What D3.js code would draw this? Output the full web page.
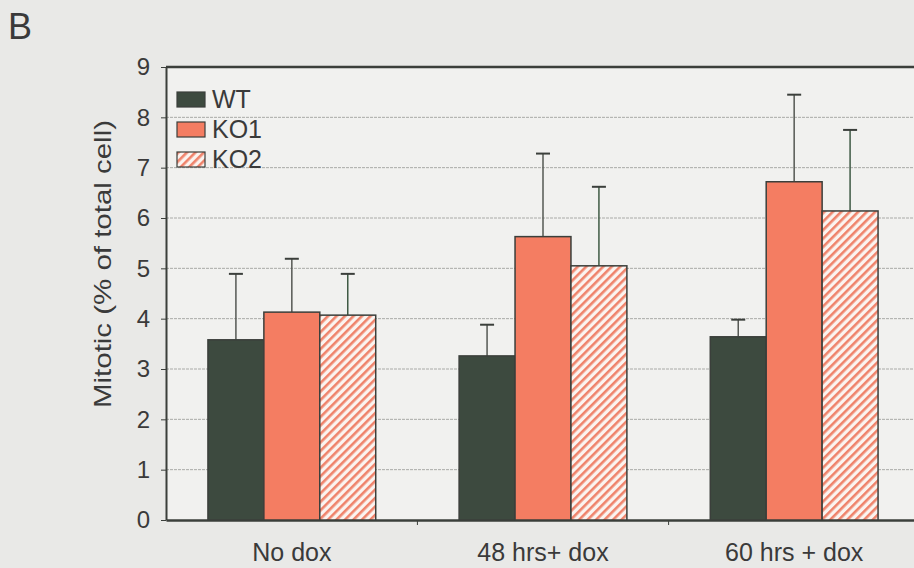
<!DOCTYPE html>
<html>
<head>
<meta charset="utf-8">
<script src="https://cdn.jsdelivr.net/npm/d3@7"></script>
<style>
  body { margin: 0; background: #e9e9e7; }
  text { font-family: "Liberation Sans", Arial, sans-serif; fill: #3a3a3a; }
</style>
</head>
<body>
<div id="chart"></div>
<script>
// data
const categories = ["No dox", "48 hrs+ dox", "60 hrs + dox"];
const series = ["WT", "KO1", "KO2"];
const means = {
    WT:  [3.58, 3.26, 3.64],
    KO1: [4.13, 5.63, 6.72],
    KO2: [4.07, 5.05, 6.14]
};
const errTops = {
    WT:  [4.89, 3.88, 3.98],
    KO1: [5.19, 7.28, 8.45],
    KO2: [4.89, 6.62, 7.75]
};
const yTicks = [0, 1, 2, 3, 4, 5, 6, 7, 8, 9];

const W = 914, H = 568;
const margin = {top: 67, right: -6, bottom: 48, left: 166};

const svg = d3.select("#chart").append("svg")
    .attr("width", W)
    .attr("height", H);

// diagonal hatch for KO2
const defs = svg.append("defs");
let pat = defs.append("pattern")
    .attr("id", "hatch")
    .attr("patternUnits", "userSpaceOnUse")
    .attr("width", 6)
    .attr("height", 6)
    .attr("patternTransform", "rotate(45)");
pat.append("rect").attr("width", 6).attr("height", 6).attr("fill", "#fbf4f0");
pat.append("rect").attr("width", 2.6).attr("height", 6).attr("fill", "#ef836b");

const color = {WT: "#3d4a3f", KO1: "#f47d62", KO2: "url(#hatch)"};

// panel letter
svg.append("text")
    .attr("x", 8).attr("y", 39)
    .style("font-size", "36px")
    .text("B");

const x0 = d3.scaleBand()
    .domain(categories)
    .range([margin.left, W - margin.right])
    .paddingInner(0.332)
    .paddingOuter(0.167);

const x1 = d3.scaleBand()
    .domain(series)
    .range([0, x0.bandwidth()]);

const y = d3.scaleLinear()
    .domain([0, 9])
    .range([H - margin.bottom, margin.top]);

// plot background
svg.append("rect")
    .attr("x", margin.left).attr("y", y(9))
    .attr("width", W - margin.left + 10).attr("height", y(0) - y(9))
    .attr("fill", "#f1f1ef");

// gridlines
svg.append("g")
    .selectAll("line")
    .data(yTicks.filter(t => t > 0 && t < 9))
    .join("line")
    .attr("x1", margin.left).attr("x2", W)
    .attr("y1", d => y(d)).attr("y2", d => y(d))
    .attr("stroke", "#a9aaa7")
    .attr("stroke-width", 1)
    .attr("stroke-dasharray", "3,1");

// top border
svg.append("line")
    .attr("x1", margin.left).attr("x2", W)
    .attr("y1", y(9)).attr("y2", y(9))
    .attr("stroke", "#3b3f3b").attr("stroke-width", 2.5);

// y axis
const yAxis = svg.append("g")
    .attr("transform", `translate(${margin.left},0)`)
    .call(d3.axisLeft(y).tickValues(yTicks).tickSize(5).tickSizeOuter(0));
yAxis.select(".domain").attr("stroke", "#3b3f3b").attr("stroke-width", 2);
yAxis.selectAll(".tick line").attr("stroke", "#3b3f3b");
yAxis.selectAll(".tick text")
    .attr("x", -16)
    .style("font-size", "24px")
    .style("fill", "#3a3a3a");

// x axis
const xAxis = svg.append("g")
    .attr("transform", `translate(0,${y(0)})`)
    .call(d3.axisBottom(x0).tickSize(0).tickSizeOuter(0));
xAxis.select(".domain").attr("stroke", "#3b3f3b").attr("stroke-width", 2.5);
xAxis.selectAll(".tick text")
    .attr("y", 23)
    .attr("dy", "0.71em")
    .style("font-size", "25px")
    .style("fill", "#3a3a3a");

// boundary ticks between groups
svg.append("g")
    .selectAll("line")
    .data(categories.slice(1))
    .join("line")
    .attr("x1", d => x0(d) - x0.step() * x0.paddingInner() / 2)
    .attr("x2", d => x0(d) - x0.step() * x0.paddingInner() / 2)
    .attr("y1", y(0)).attr("y2", y(0) + 5)
    .attr("stroke", "#3b3f3b");

// bars
const rows = [];
categories.forEach((c, i) => {
    series.forEach(s => {
        rows.push({cat: c, key: s, v: means[s][i], e: errTops[s][i]});
    });
});

const groups = svg.append("g").selectAll("g")
    .data(rows)
    .join("g")
    .attr("transform", d => `translate(${x0(d.cat) + x1(d.key)},0)`);

// error bars (upper only)
groups.append("line")
    .attr("x1", x1.bandwidth() / 2).attr("x2", x1.bandwidth() / 2)
    .attr("y1", d => y(d.v)).attr("y2", d => y(d.e))
    .attr("stroke", d => d.key === "KO2" ? "#3f5a44" : "#555853")
    .attr("stroke-width", 1.5);
groups.append("line")
    .attr("x1", x1.bandwidth() / 2 - 7).attr("x2", x1.bandwidth() / 2 + 7)
    .attr("y1", d => y(d.e)).attr("y2", d => y(d.e))
    .attr("stroke", "#3b3f3b")
    .attr("stroke-width", 2);

groups.append("rect")
    .attr("x", 0)
    .attr("width", x1.bandwidth())
    .attr("y", d => y(d.v))
    .attr("height", d => y(0) - y(d.v))
    .attr("fill", d => color[d.key])
    .attr("stroke", "#3b3f3b")
    .attr("stroke-width", 1.5);

// legend
const legend = svg.append("g")
    .attr("transform", "translate(177,92)");
const li = legend.selectAll("g")
    .data(series)
    .join("g")
    .attr("transform", (d, i) => `translate(0,${i * 30})`);
li.append("rect")
    .attr("width", 28).attr("height", 15)
    .attr("fill", d => color[d])
    .attr("stroke", "#3b3f3b")
    .attr("stroke-width", 1.2);
li.append("text")
    .attr("x", 35).attr("y", 16)
    .style("font-size", "25px")
    .text(d => d);

// y label
svg.append("text")
    .attr("transform", "translate(111,264) rotate(-90)")
    .attr("text-anchor", "middle")
    .attr("textLength", 288)
    .attr("lengthAdjust", "spacingAndGlyphs")
    .style("font-size", "24px")
    .text("Mitotic (% of total cell)");
</script>
</body>
</html>
